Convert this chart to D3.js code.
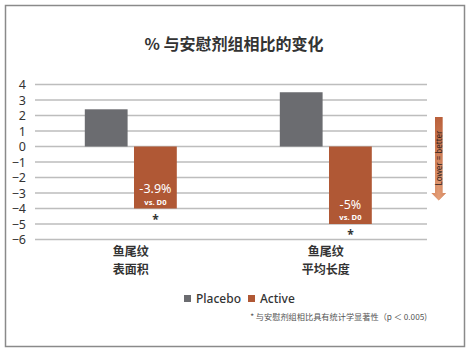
<!DOCTYPE html>
<html><head><meta charset="utf-8">
<script src="https://cdn.jsdelivr.net/npm/d3@7/dist/d3.min.js"></script>
<style>
html,body{margin:0;padding:0;background:#fff;}
svg{display:block;font-family:"Noto Sans CJK SC","Noto Sans",sans-serif;}
</style></head>
<body>
<script>
const categories = [["鱼尾纹","表面积"],["鱼尾纹","平均长度"]];
const seriesNames = ["Placebo","Active"];
const placebo = [2.4, 3.5];
const active = [-4.0, -5.0];
const activeLabels = ["-3.9%","-5%"];
const yTicks = [4,3,2,1,0,-1,-2,-3,-4,-5,-6];
const colors = ["#6b6c70","#b05835"];
const title = "% 与安慰剂组相比的变化";
const footnote = "* 与安慰剂组相比具有统计学显著性（p ＜ 0.005)";

const W = 472, H = 355;
const svg = d3.select("body").append("svg").attr("width", W).attr("height", H);

// frame
svg.append("rect").attr("x",5.5).attr("y",5.5).attr("width",459).attr("height",341)
  .attr("fill","#fff").attr("stroke","#8a8a8a").attr("stroke-width",1.5);

svg.append("text").attr("x",234).attr("y",50).attr("text-anchor","middle")
  .attr("font-size",16).attr("font-weight",700).attr("fill","#333").text(title);

const y = d3.scaleLinear().domain([-6,4]).range([239.5,84.5]);
const x0 = d3.scaleBand().domain(d3.range(categories.length)).range([33.3,423.3]);
const x1 = d3.scaleBand().domain([0,1]).range([x0.bandwidth()/2-46, x0.bandwidth()/2+46]).paddingInner(0.13);

// gridlines
const grid = svg.append("g");
yTicks.forEach(t=>{
  grid.append("line").attr("x1",35).attr("x2",427).attr("y1",y(t)).attr("y2",y(t))
    .attr("stroke","#bdbdbd").attr("stroke-width",1.5);
});

// y axis labels
const yAxis = d3.axisLeft(y).tickValues(yTicks).tickSize(0).tickPadding(0).tickFormat(d3.format("d"));
const ga = svg.append("g").attr("transform","translate(26,0)").call(yAxis);
ga.select(".domain").remove();
ga.selectAll("text").attr("font-size",12.5).attr("fill","#333").attr("font-family","'Noto Sans',sans-serif");

// bars
const data = categories.map((c,i)=>({i, vals:[placebo[i], active[i]]}));
const g = svg.append("g");
data.forEach(d=>{
  d.vals.forEach((v,j)=>{
    g.append("rect")
      .attr("x", x0(d.i)+x1(j)).attr("width", x1.bandwidth())
      .attr("y", y(Math.max(0,v))).attr("height", Math.abs(y(v)-y(0)))
      .attr("fill", colors[j]);
  });
  const cx = x0(d.i)+x1(1)+x1.bandwidth()/2;
  const bot = y(active[d.i]);
  g.append("text").attr("x",cx).attr("y",bot-15.3).attr("text-anchor","middle").attr("fill","#fff")
    .attr("font-family","'Noto Sans',sans-serif").attr("font-size",12.5).text(activeLabels[d.i]);
  g.append("text").attr("x",cx).attr("y",bot-3.6).attr("text-anchor","middle").attr("fill","#fff")
    .attr("font-family","'Noto Sans',sans-serif").attr("font-size",7.6).attr("font-weight",700).text("vs. D0");
  g.append("text").attr("x",cx).attr("y",bot+15).attr("text-anchor","middle")
    .attr("font-size",12).attr("font-weight",700).attr("fill","#333").attr("font-family","'Noto Sans',sans-serif").text("*");
  // category labels
  const cl = svg.append("text").attr("text-anchor","middle")
    .attr("font-size",12).attr("font-weight",700).attr("fill","#333");
  categories[d.i].forEach((s,k)=>{
    cl.append("tspan").attr("x",x0(d.i)+x0.bandwidth()/2).attr("y",256+k*17.6).text(s);
  });
});

// legend
const legX = [184, 248];
seriesNames.forEach((n,j)=>{
  svg.append("rect").attr("x",legX[j]).attr("y",295).attr("width",7).attr("height",7).attr("fill",colors[j]);
  svg.append("text").attr("x",legX[j]+12).attr("y",302.5).attr("font-size",12).attr("font-weight",500)
    .attr("fill","#333").attr("font-family","'Noto Sans',sans-serif").text(n);
});

svg.append("text").attr("x",427).attr("y",320).attr("text-anchor","end")
  .attr("font-size",8.2).attr("fill","#555").text(footnote);

// arrow
const defs = svg.append("defs");
const lg = defs.append("linearGradient").attr("id","ag").attr("x1","0").attr("x2","1").attr("y1","0").attr("y2","0");
lg.append("stop").attr("offset","0").attr("stop-color","#c9774f");
lg.append("stop").attr("offset","0.5").attr("stop-color","#e9a882");
lg.append("stop").attr("offset","1").attr("stop-color","#c06a44");
const lg2 = defs.append("linearGradient").attr("id","ag2").attr("x1","0").attr("x2","0").attr("y1","0").attr("y2","1");
lg2.append("stop").attr("offset","0").attr("stop-color","#b55a35").attr("stop-opacity",0.9);
lg2.append("stop").attr("offset","1").attr("stop-color","#e29a72").attr("stop-opacity",0.6);
const ap = "M435,117 L442.5,117 L442.5,193 L446,193 L438.75,200.5 L431.5,193 L435,193 Z";
svg.append("path").attr("d",ap).attr("fill","url(#ag)");
svg.append("path").attr("d",ap).attr("fill","url(#ag2)");
svg.append("text").attr("transform","translate(441.8,158) rotate(-90)").attr("text-anchor","middle")
  .attr("font-size",8).attr("fill","#2e221c").attr("font-family","'Noto Sans',sans-serif").text("Lower = better");
</script>
</body></html>
